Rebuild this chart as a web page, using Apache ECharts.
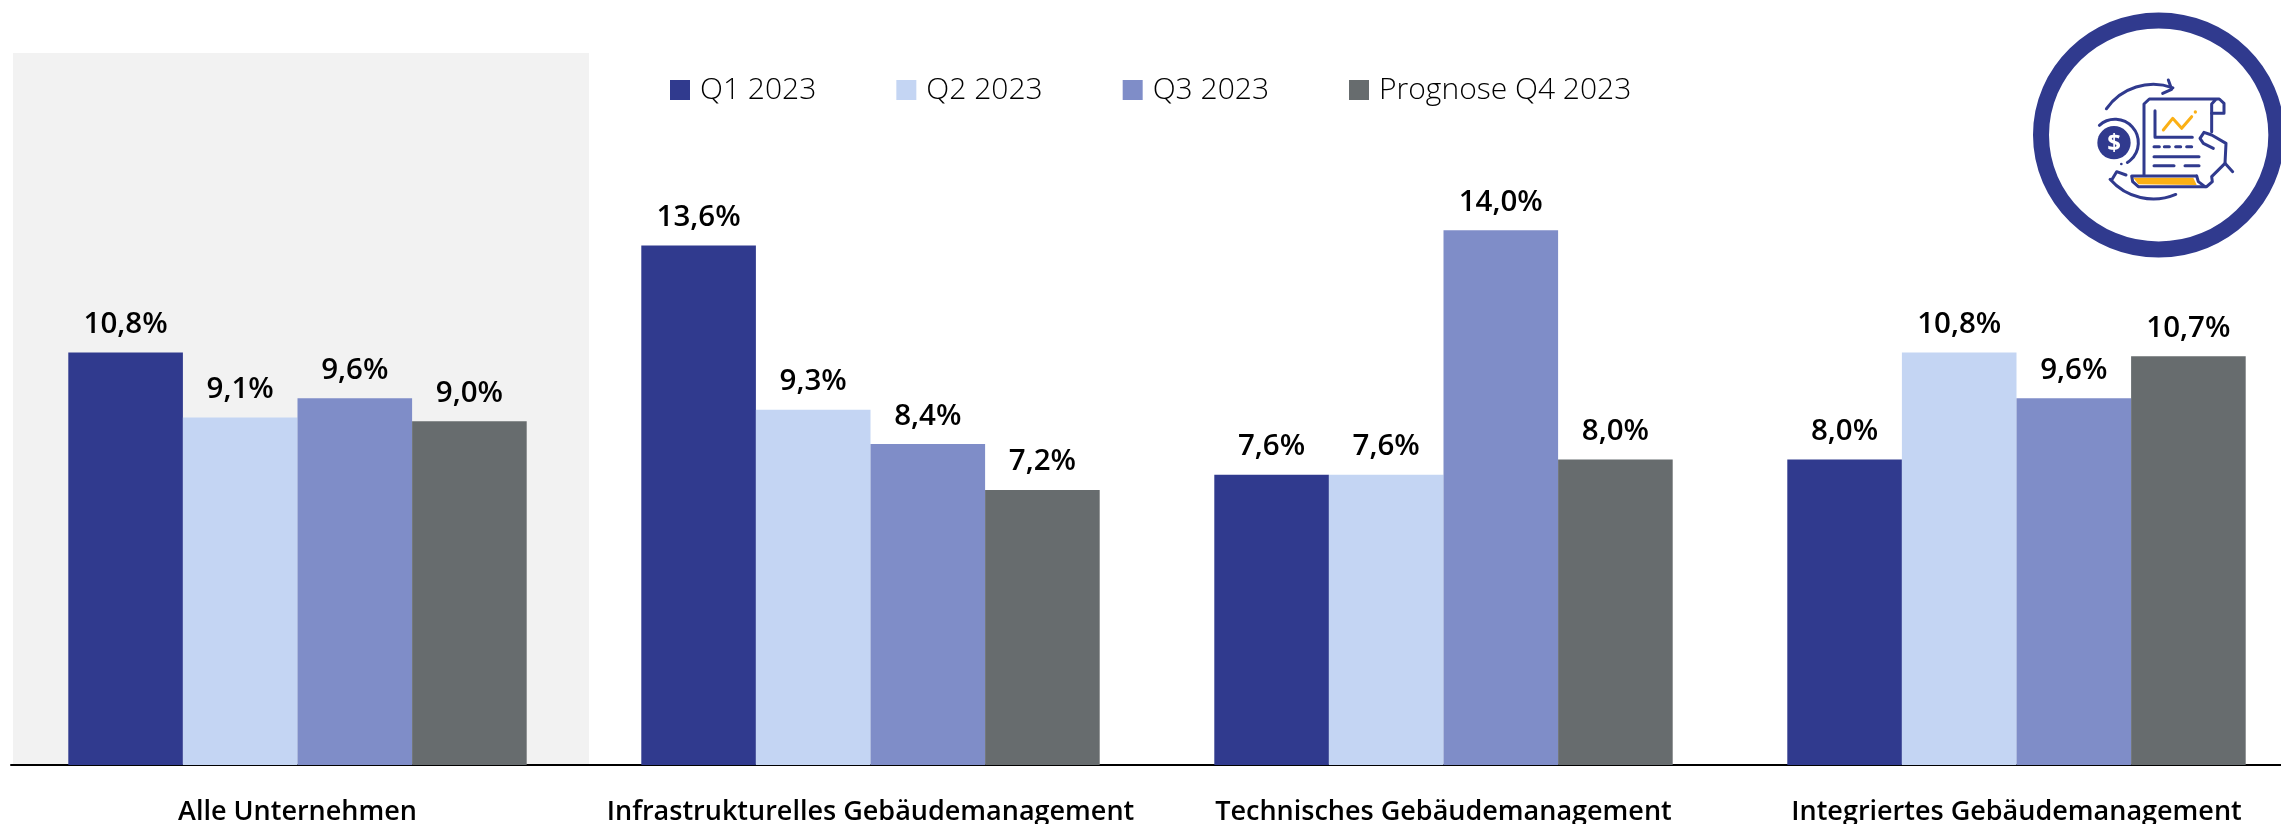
<!DOCTYPE html>
<html><head><meta charset="utf-8">
<style>html,body{margin:0;padding:0;background:#fff}#c{width:2281px;height:824px}</style>
<script src="https://cdn.jsdelivr.net/npm/echarts@6/dist/echarts.min.js"></script>
</head><body><div id="c"></div>
<script>
const categories = ['Alle Unternehmen','Infrastrukturelles Gebäudemanagement','Technisches Gebäudemanagement','Integriertes Gebäudemanagement'];
const q1 = [10.8,13.6,7.6,8.0];
const q2 = [9.1,9.3,7.6,10.8];
const q3 = [9.6,8.4,14.0,9.6];
const q4 = [9.0,7.2,8.0,10.7];
const seriesNames = ['Q1 2023','Q2 2023','Q3 2023','Prognose Q4 2023'];
const colors = ['#303a8e','#c4d5f3','#7f8dc8','#676c6e'];
const font = '"Open Sans"';
const mk = (name,data,color)=>({name,type:'bar',data,barWidth:'20%',barGap:'0%',
  itemStyle:{color},
  label:{show:true,position:'top',distance:13,fontFamily:font,fontSize:29.5,fontWeight:600,color:'#000',
    formatter:p=>p.value.toFixed(1).replace('.',',')+'%'}});
const navy='#303a8e', amber='#fbb015';
const W=9;
const ln=(pts,c=navy,w=W)=>({type:'polyline',shape:{points:pts},style:{fill:null,stroke:c,lineWidth:w,lineCap:'round',lineJoin:'round'}});
const arc=(cx,cy,r,a,b,w=W)=>({type:'arc',shape:{cx,cy,r,startAngle:a*Math.PI/180,endAngle:b*Math.PI/180,clockwise:true},style:{fill:null,stroke:navy,lineWidth:w,lineCap:'round'}});
const dot=(cx,cy,r,c=navy)=>({type:'circle',shape:{cx,cy,r},style:{fill:c}});
const icon=[
  {type:'ellipse',shape:{cx:536,cy:405,rx:353,ry:343.5},style:{fill:'#fff',stroke:navy,lineWidth:48}},
  arc(520,425,172,215,290), ln([[565,240],[575,268],[548,280]]),
  arc(520,425,172,67,139), ln([[395,540],[410,515],[438,525]]),
  dot(402,428,50), arc(405,428,70,228,418), dot(424,492,4),
  {type:'text',style:{x:402,y:432,text:'$',fill:'#fff',font:'700 72px "Open Sans"',align:'center',verticalAlign:'middle'}},
  {type:'polygon',shape:{points:[[460,533],[640,533],[650,555],[475,553]]},style:{fill:amber}},
  ln([[492,525],[492,312],[508,297],[718,297],[732,310],[732,340],[695,340],[695,312],[708,298]]),
  ln([[695,340],[695,395]]),
  ln([[525,332],[525,412],[637,412]]),
  ln([[550,390],[578,355],[605,385],[635,350]],amber), dot(646,336,5,amber),
  ln([[522,440],[538,440]]),ln([[553,440],[568,440]]),ln([[587,440],[602,440]]),ln([[620,440],[635,440]]),
  ln([[522,470],[657,470]]),ln([[522,497],[582,497]]),ln([[615,497],[657,497]]),
  ln([[650,528],[455,528],[458,545],[475,560],[680,560],[697,545],[695,530],[735,490],[738,430],[695,405],[672,397],[660,415],[670,430],[700,445]]),
  ln([[650,528],[655,545],[675,560]]),
  ln([[735,490],[758,515]])
];
const chart = echarts.init(document.getElementById('c'),null,{renderer:'canvas'});
chart.setOption({
  animation:false,backgroundColor:'#fff',
  grid:{left:11,top:1,width:2292,height:764,containLabel:false,outerBoundsMode:'none'},
  legend:{show:true,left:665,top:70,itemWidth:20,itemHeight:20,itemGap:80,icon:'rect',
    data:seriesNames,
    textStyle:{fontFamily:font,fontSize:30,fontWeight:300,color:'#000',padding:[0,0,0,5]}},
  xAxis:{type:'category',data:categories,
    axisLine:{show:true,lineStyle:{color:'#000',width:2}},axisTick:{show:false},
    axisLabel:{interval:0,margin:34,fontFamily:font,fontSize:27,fontWeight:600,color:'#000'}},
  yAxis:{type:'value',min:0,max:20,show:false,splitLine:{show:false}},
  graphic:[
    {type:'rect',z:-10,shape:{x:13,y:53,width:576,height:712},style:{fill:'#f2f2f2'}},
    {type:'group',x:1980,y:0,scaleX:1/3,scaleY:1/3,children:icon}
  ],
  series:[mk(seriesNames[0],q1,colors[0]),mk(seriesNames[1],q2,colors[1]),mk(seriesNames[2],q3,colors[2]),mk(seriesNames[3],q4,colors[3])]
});
</script></body></html>
